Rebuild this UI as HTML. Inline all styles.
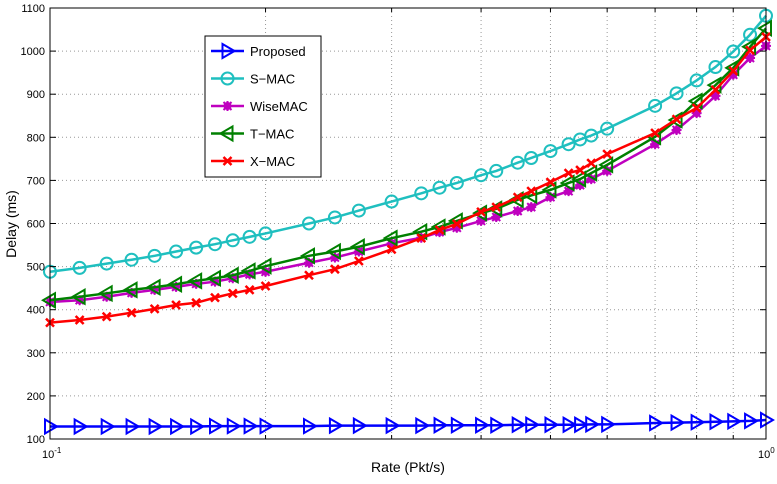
<!DOCTYPE html>
<html><head><meta charset="utf-8"><style>
body{margin:0;background:#fff;width:777px;height:479px;overflow:hidden}
svg{font-family:"Liberation Sans",sans-serif}
</style></head><body>
<svg id="chart" width="777" height="479" xmlns="http://www.w3.org/2000/svg">
<g id="grid"></g>
<g id="series"></g>
<g id="axes"></g>
<g id="legend"></g>
</svg>
<script>
const rates=[0.1,0.11,0.12,0.13,0.14,0.15,0.16,0.17,0.18,0.19,0.2,0.23,0.25,0.27,0.3,0.33,0.35,0.37,0.4,0.42,0.45,0.47,0.5,0.53,0.55,0.57,0.6,0.7,0.75,0.8,0.85,0.9,0.95,1.0];
const proposed=[129,129,129,129,129,129,129,130,130,130,130,130,131,131,131,131,132,132,132,132,133,133,133,133,133,134,134,137,138,139,140,141,142,144];
const smac=[488,497,507,516,525,535,544,552,561,569,577,600,614,630,651,670,683,694,712,722,741,752,768,784,795,804,820,873,902,932,963,999,1038,1082];
const wisemac=[418,422,430,439,446,453,460,465,473,482,488,509,521,535,554,567,580,590,606,615,629,638,661,675,689,703,722,784,817,856,896,945,984,1012];
const tmac=[422,430,438,446,452,459,467,473,480,490,501,525,535,546,566,581,592,606,624,634,655,665,678,694,703,717,736,801,840,884,921,961,1010,1053];
const xmac=[370,376,384,393,402,411,416,428,438,446,455,480,494,513,540,566,585,599,627,638,661,675,696,717,724,740,761,810,842,868,910,954,1002,1033];
const yTicks=[100,200,300,400,500,600,700,800,900,1000,1100];
const minorX=[0.2,0.3,0.4,0.5,0.6,0.7,0.8,0.9];

const L=50,R=766,T=8,B=439;
const xs=v=>L+(R-L)*(Math.log10(v)+1);
const ys=v=>B-(v-100)/1000*(B-T);
const NS="http://www.w3.org/2000/svg";
function mk(tag,attrs,parent){const e=document.createElementNS(NS,tag);for(const k in attrs)e.setAttribute(k,attrs[k]);parent.appendChild(e);return e;}
const grid=document.getElementById('grid'),axes=document.getElementById('axes'),ser=document.getElementById('series'),leg=document.getElementById('legend');

yTicks.forEach(v=>{
 if(v>100&&v<1100){const g=mk('line',{x1:L,x2:R,y1:ys(v),y2:ys(v),stroke:'#999','stroke-dasharray':'1,3','stroke-width':1},grid);
 
 }
 mk('line',{x1:L,x2:L+6,y1:ys(v),y2:ys(v),stroke:'#000'},axes);
 mk('line',{x1:R,x2:R-6,y1:ys(v),y2:ys(v),stroke:'#000'},axes);
 const t=mk('text',{x:L-5,y:ys(v)+4,'text-anchor':'end','font-size':11},axes);t.textContent=v;
 
 
});
minorX.forEach(v=>{
 const g=mk('line',{x1:xs(v),x2:xs(v),y1:T,y2:B,stroke:'#999','stroke-dasharray':'1,3'},grid);
 
 
 mk('line',{x1:xs(v),x2:xs(v),y1:B,y2:B-4,stroke:'#000'},axes);
 mk('line',{x1:xs(v),x2:xs(v),y1:T,y2:T+4,stroke:'#000'},axes);
});
mk('rect',{x:L,y:T,width:R-L,height:B-T,fill:'none',stroke:'#000','stroke-width':1},axes);
[[L,'-1'],[R,'0']].forEach(([x,e])=>{
 const t=mk('text',{x:x-8,y:B+19,'font-size':11},axes);t.innerHTML='10<tspan dy="-5" font-size="8">'+e+'</tspan>';
 
 
});
const xl=mk('text',{x:408,y:472,'text-anchor':'middle','font-size':14},axes);xl.textContent='Rate (Pkt/s)';


const yl=mk('text',{x:0,y:0,'text-anchor':'middle','font-size':14,transform:'translate(16,224) rotate(-90)'},axes);yl.textContent='Delay (ms)';



function marker(type,x,y,c,p){
 if(type==='tri-r')return mk('polygon',{points:`${x-5},${y-7} ${x-5},${y+7} ${x+7},${y}`,fill:'none',stroke:c,'stroke-width':2},p);
 if(type==='tri-l')return mk('polygon',{points:`${x+5},${y-7} ${x+5},${y+7} ${x-7},${y}`,fill:'none',stroke:c,'stroke-width':2},p);
 if(type==='circle')return mk('circle',{cx:x,cy:y,r:6,fill:'none',stroke:c,'stroke-width':2},p);
 if(type==='star'){const g=mk('g',{},p);mk('circle',{cx:x,cy:y,r:4,fill:c},g);
  mk('path',{d:`M${x-5} ${y}H${x+5}M${x} ${y-5}V${y+5}M${x-4} ${y-4}L${x+4} ${y+4}M${x-4} ${y+4}L${x+4} ${y-4}`,stroke:c,'stroke-width':2},g);return g;}
 if(type==='x')return mk('path',{d:`M${x-4} ${y-4}L${x+4} ${y+4}M${x-4} ${y+4}L${x+4} ${y-4}`,stroke:c,'stroke-width':2.5},p);
}
const S=[
 ['Proposed',proposed,'#0000ff','tri-r','series-proposed'],
 ['S\u2212MAC',smac,'#1fbfbf','circle','series-smac'],
 ['WiseMAC',wisemac,'#bf00bf','star','series-wisemac'],
 ['T\u2212MAC',tmac,'#008000','tri-l','series-tmac'],
 ['X\u2212MAC',xmac,'#ff0000','x','series-xmac']];
[1,2,3,4,0].forEach(i=>{
 const [n,d,c,m,nm]=S[i];
 const g=mk('g',{},ser);
 
 
 mk('polyline',{points:d.map((v,j)=>xs(rates[j])+','+ys(v)).join(' '),fill:'none',stroke:c,'stroke-width':2.5},g);
 d.forEach((v,j)=>{const mm=marker(m,xs(rates[j]),ys(v),c,g);
  
  });
});
const lb=mk('rect',{x:205,y:36,width:116,height:141,fill:'#fff',stroke:'#000'},leg);


S.forEach(([n,d,c,m,nm],i)=>{
 const y=51+i*27.5;
 const g=mk('g',{},leg);
 
 
 mk('line',{x1:211,x2:244,y1:y,y2:y,stroke:c,'stroke-width':2.5},g);
 marker(m,227.5,y,c,g);
 const t=mk('text',{x:250,y:y+5,'font-size':13},g);t.textContent=n;
});
</script>
</body></html>
